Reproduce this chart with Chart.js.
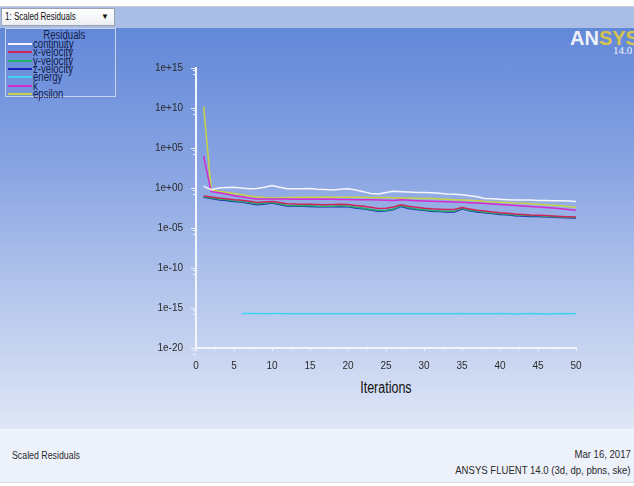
<!DOCTYPE html>
<html lang="en">
<head>
    <meta charset="UTF-8">
    <title>Scaled Residuals</title>
    <script src="https://cdn.jsdelivr.net/npm/chart.js"></script>
    <style>
        body { margin: 0; background: #fff; }
        .page { position: relative; width: 634px; height: 486px; overflow: hidden;
                font-family: "Liberation Sans", Arial, sans-serif; }
        .topstrip { position: absolute; left: 0; top: 0; width: 634px; height: 6px; background: #fff; border-bottom: 1px solid #c9ced8; }
        .toolbar { position: absolute; left: 0; top: 7px; width: 634px; height: 21px; background: #a9bde5; }
        .plotbg { position: absolute; left: 0; top: 28px; width: 634px; height: 401px;
                  background: linear-gradient(to bottom, #6388d9 0%, #88a4e2 35%, #b3c5ec 65%, #dfe6f6 100%); }
        .footer { position: absolute; left: 0; top: 429px; width: 634px; height: 52px; background: #edf1fa;
                  border-top: 1px solid #f6f8fd; border-bottom: 1px solid #d8dce4; }
        .narrow { display: inline-block; transform: scaleX(0.8); white-space: nowrap; }
        .dropdown { position: absolute; left: 1px; top: 8px; width: 114px; height: 18px; box-sizing: border-box;
                    background: linear-gradient(#ffffff, #eceef2); border: 1px solid #9aa3b3;
                    font-size: 10px; line-height: 16px; padding-left: 3px; color: #111; }
        .dropdown .narrow { transform-origin: 0 50%; }
        .dropdown .arr { position: absolute; right: 5px; top: 0; font-size: 8px; }
        .legend { position: absolute; left: 5px; top: 28px; width: 111px; height: 69px; box-sizing: border-box;
                  border: 1px solid #c6d3f0; color: #13204a; }
        .legend .ttl { position: absolute; left: 0; width: 100%; top: 0px; text-align: center; font-size: 12px; line-height: 12px; padding-left: 8px; box-sizing: border-box; }
        .legend .row { position: absolute; left: 2px; height: 8px; font-size: 12px; line-height: 8px; white-space: nowrap; }
        .legend .row i { display: inline-block; width: 24px; height: 2px; vertical-align: middle; margin-right: 1px; }
        .legend .row .narrow { transform-origin: 0 50%; vertical-align: middle; }
        .logo { position: absolute; left: 570px; top: 27px; font-family: "Liberation Sans", Arial, sans-serif; font-weight: bold;
                font-size: 20px; line-height: 22px; letter-spacing: 0px; white-space: nowrap; }
        .logo .a { color: #eef1f7; }
        .logo .s { color: #d4c44e; }
        .ver { position: absolute; left: 613px; top: 44px; font-family: "Liberation Serif", serif; font-size: 11px; line-height: 12px; color: #f2f4fa; }
        .xtitle { position: absolute; left: 336px; width: 100px; top: 379px; text-align: center; font-size: 16px; line-height: 18px; color: #111; }
        .xtitle .narrow { transform: scaleX(0.78); }
        .ftxt { position: absolute; font-size: 11px; color: #2a2a2a; white-space: nowrap; }
        .ftxt .narrow { transform-origin: 0 50%; }
        .ftxt.r .narrow { transform-origin: 100% 50%; transform: scaleX(0.87); }
        #wrap { position: absolute; left: 0; top: 0; width: 634px; height: 486px; }
    </style>
</head>
<body>
<div class="page">
    <div class="topstrip"></div>
    <div class="toolbar"></div>
    <div class="plotbg"></div>
    <div class="footer"></div>
    <div class="dropdown"><span class="narrow">1: Scaled Residuals</span><span class="arr">&#9660;</span></div>
    <div class="legend" id="legend"><div class="ttl"><span class="narrow">Residuals</span></div></div>
    <div class="logo"><span class="a">AN</span><span class="s">SYS</span></div>
    <div class="ver">14.0</div>
    <div class="xtitle"><span class="narrow">Iterations</span></div>
    <div class="ftxt" style="left:12px; top:449px;"><span class="narrow">Scaled Residuals</span></div>
    <div class="ftxt r" style="right:3px; top:448px;"><span class="narrow">Mar 16, 2017</span></div>
    <div class="ftxt r" style="right:3px; top:464px;"><span class="narrow">ANSYS FLUENT 14.0 (3d, dp, pbns, ske)</span></div>
    <div id="wrap"><canvas id="residuals"></canvas></div>
</div>

<script>
    const FONT = '"Liberation Sans", Arial, sans-serif';

    const iterations = [1, 2, 3, 4, 5, 6, 7, 8, 9, 10, 11, 12, 13, 14, 15, 16, 17, 18, 19, 20,
        21, 22, 23, 24, 25, 26, 27, 28, 29, 30, 31, 32, 33, 34, 35, 36, 37, 38, 39, 40,
        41, 42, 43, 44, 45, 46, 47, 48, 49, 50];

    const seriesNames = ['continuity', 'x-velocity', 'y-velocity', 'z-velocity', 'energy', 'k', 'epsilon'];
    const seriesColors = ['#f4f6fb', '#d0245a', '#1fb06a', '#1a22b8', '#3fd2f2', '#d42ad0', '#c9d244'];

    const continuity = [1.58, 0.63, 1.0, 1.12, 1.2, 1.0, 0.79, 0.89, 1.26, 2.1,
        1.26, 0.79, 0.79, 0.79, 0.89, 0.71, 0.63, 0.56, 0.71, 0.79,
        0.56, 0.35, 0.2, 0.18, 0.28, 0.4, 0.35, 0.32, 0.28, 0.28,
        0.25, 0.22, 0.18, 0.16, 0.14, 0.11, 0.079, 0.05, 0.045, 0.04,
        0.035, 0.032, 0.032, 0.032, 0.028, 0.028, 0.025, 0.025, 0.024, 0.021];
    const xVelocity = [0.1, 0.075, 0.055, 0.044, 0.034, 0.029, 0.022, 0.015, 0.018, 0.021,
        0.015, 0.0105, 0.0098, 0.0094, 0.009, 0.0085, 0.0083, 0.0085, 0.009, 0.0085,
        0.0065, 0.0052, 0.0038, 0.0028, 0.003, 0.0042, 0.008, 0.0052, 0.0038, 0.003,
        0.0025, 0.0022, 0.002, 0.002, 0.0036, 0.0024, 0.0017, 0.0013, 0.001, 0.0008,
        0.0007, 0.00056, 0.0005, 0.00042, 0.0004, 0.00036, 0.00031, 0.00028, 0.00026, 0.00024];
    const yVelocity = [0.078, 0.058, 0.041, 0.033, 0.025, 0.021, 0.015, 0.0098, 0.012, 0.0155,
        0.0105, 0.0066, 0.0066, 0.0061, 0.0059, 0.0053, 0.0052, 0.0053, 0.0059, 0.0053,
        0.0038, 0.003, 0.0021, 0.0015, 0.0017, 0.0024, 0.0059, 0.0033, 0.0024, 0.0019,
        0.0015, 0.0013, 0.0012, 0.0012, 0.003, 0.0017, 0.0012, 0.00093, 0.00074, 0.00059,
        0.00053, 0.00041, 0.00038, 0.00033, 0.00033, 0.0003, 0.00026, 0.00024, 0.00022, 0.00021];
    const zVelocity = [0.068, 0.05, 0.035, 0.028, 0.021, 0.018, 0.0126, 0.0083, 0.01, 0.013,
        0.0089, 0.0056, 0.0056, 0.0052, 0.005, 0.0045, 0.0044, 0.0045, 0.005, 0.0045,
        0.0032, 0.0025, 0.0018, 0.00126, 0.0014, 0.002, 0.005, 0.0028, 0.002, 0.0016,
        0.00126, 0.00112, 0.001, 0.001, 0.0025, 0.0014, 0.001, 0.00079, 0.00063, 0.0005,
        0.00045, 0.00035, 0.00032, 0.00028, 0.00028, 0.00025, 0.00022, 0.0002, 0.00019, 0.00018];
    const energy = [null, null, null, null, null, 2.1e-16, 2.0e-16, 2.0e-16, 1.9e-16, 2.0e-16,
        2.0e-16, 1.9e-16, 1.9e-16, 1.9e-16, 1.9e-16, 1.9e-16, 1.9e-16, 1.9e-16, 1.9e-16, 1.9e-16,
        1.9e-16, 1.9e-16, 1.9e-16, 1.9e-16, 1.9e-16, 1.9e-16, 1.9e-16, 1.9e-16, 1.9e-16, 1.9e-16,
        1.9e-16, 1.9e-16, 1.9e-16, 1.9e-16, 2.0e-16, 1.9e-16, 1.9e-16, 1.9e-16, 1.9e-16, 2.0e-16,
        1.9e-16, 1.8e-16, 1.9e-16, 2.0e-16, 1.9e-16, 1.8e-16, 1.9e-16, 2.0e-16, 1.9e-16, 2.0e-16];
    const kResidual = [9.0e3, 0.35, 0.25, 0.18, 0.11, 0.079, 0.056, 0.042, 0.042, 0.042,
        0.041, 0.041, 0.04, 0.04, 0.04, 0.04, 0.039, 0.038, 0.037, 0.036,
        0.035, 0.034, 0.033, 0.031, 0.03, 0.028, 0.033, 0.029, 0.026, 0.024,
        0.022, 0.021, 0.019, 0.018, 0.016, 0.0145, 0.013, 0.0112, 0.0098, 0.0085,
        0.0074, 0.0064, 0.0055, 0.0048, 0.0041, 0.0036, 0.0031, 0.0026, 0.0021, 0.0017];
    const epsilon = [1.6e10, 0.63, 0.4, 0.28, 0.2, 0.14, 0.1, 0.074, 0.063, 0.058,
        0.06, 0.063, 0.066, 0.068, 0.07, 0.072, 0.074, 0.072, 0.072, 0.07,
        0.069, 0.068, 0.066, 0.064, 0.063, 0.06, 0.058, 0.055, 0.052, 0.05,
        0.047, 0.043, 0.039, 0.035, 0.032, 0.029, 0.025, 0.021, 0.019, 0.017,
        0.015, 0.013, 0.012, 0.011, 0.0095, 0.0083, 0.0072, 0.006, 0.005, 0.004];

    const seriesValues = [continuity, xVelocity, yVelocity, zVelocity, energy, kResidual, epsilon];

    const yTicks = [1e-20, 1e-15, 1e-10, 1e-5, 1, 1e5, 1e10, 1e15];
    const yTickLabels = ['1e-20', '1e-15', '1e-10', '1e-05', '1e+00', '1e+05', '1e+10', '1e+15'];
    const xTicks = [0, 5, 10, 15, 20, 25, 30, 35, 40, 45, 50];

    // legend box, built from the series lists
    const legend = document.getElementById('legend');
    seriesNames.forEach(function(name, i) {
        const row = document.createElement('div');
        row.className = 'row';
        row.style.top = (10 + i * 8.4) + 'px';
        row.innerHTML = '<i style="background:' + seriesColors[i] + '"></i><span class="narrow">' + name + '</span>';
        legend.appendChild(row);
    });

    // small minor tick marks like the Fluent plot window
    const minorTicks = {
        id: 'minorTicks',
        afterDraw(chart) {
            const ctx = chart.ctx;
            const x = chart.scales.x, y = chart.scales.y;
            ctx.save();
            ctx.strokeStyle = '#eef2fb';
            ctx.lineWidth = 1;
            ctx.beginPath();
            for (let i = 0; i < xTicks.length - 1; i++) {
                const px = Math.round(x.getPixelForValue((xTicks[i] + xTicks[i + 1]) / 2)) + 0.5;
                ctx.moveTo(px, y.bottom);
                ctx.lineTo(px, y.bottom + 2);
            }
            yTicks.forEach(function(v) {
                [0.5, 0.2].forEach(function(f) {
                    const py = Math.round(y.getPixelForValue(v * f)) + 0.5;
                    ctx.moveTo(x.left - 3, py);
                    ctx.lineTo(x.left, py);
                });
            });
            ctx.stroke();
            ctx.restore();
        }
    };

    document.addEventListener('DOMContentLoaded', function() {
        const ctx = document.getElementById('residuals').getContext('2d');
        new Chart(ctx, {
            type: 'line',
            data: {
                datasets: seriesNames.map(function(name, i) {
                    return {
                        label: name,
                        data: iterations.map(function(it, j) { return { x: it, y: seriesValues[i][j] }; }),
                        borderColor: seriesColors[i],
                        borderWidth: 1.5,
                        pointRadius: 0,
                        tension: 0,
                        spanGaps: false
                    };
                })
            },
            options: {
                responsive: true,
                maintainAspectRatio: false,
                animation: false,
                layout: { padding: { left: 140, right: 58, top: 68, bottom: 88 } },
                plugins: { legend: { display: false }, tooltip: { enabled: false } },
                scales: {
                    x: {
                        type: 'linear',
                        min: 0,
                        max: 50,
                        afterBuildTicks: function(axis) { axis.ticks = xTicks.map(function(v) { return { value: v }; }); },
                        afterFit: function(axis) { axis.height = 50; },
                        grid: { drawOnChartArea: false, tickLength: 3, color: '#eef2fb' },
                        border: { color: '#f2f5fc', width: 2 },
                        ticks: { color: '#2b2b2b', font: { family: FONT, size: 10 }, padding: 9, autoSkip: false, maxRotation: 0 }
                    },
                    y: {
                        type: 'logarithmic',
                        min: 1e-20,
                        max: 1e15,
                        afterBuildTicks: function(axis) { axis.ticks = yTicks.map(function(v) { return { value: v }; }); },
                        afterFit: function(axis) { axis.width = 56; },
                        grid: { drawOnChartArea: false, tickLength: 5, color: '#eef2fb' },
                        border: { color: '#f2f5fc', width: 2 },
                        ticks: {
                            color: '#2b2b2b',
                            font: { family: FONT, size: 10 },
                            padding: 8,
                            autoSkip: false,
                            callback: function(v) { return yTickLabels[yTicks.indexOf(v)]; }
                        }
                    }
                }
            },
            plugins: [minorTicks]
        });
    });
</script>
</body>
</html>
